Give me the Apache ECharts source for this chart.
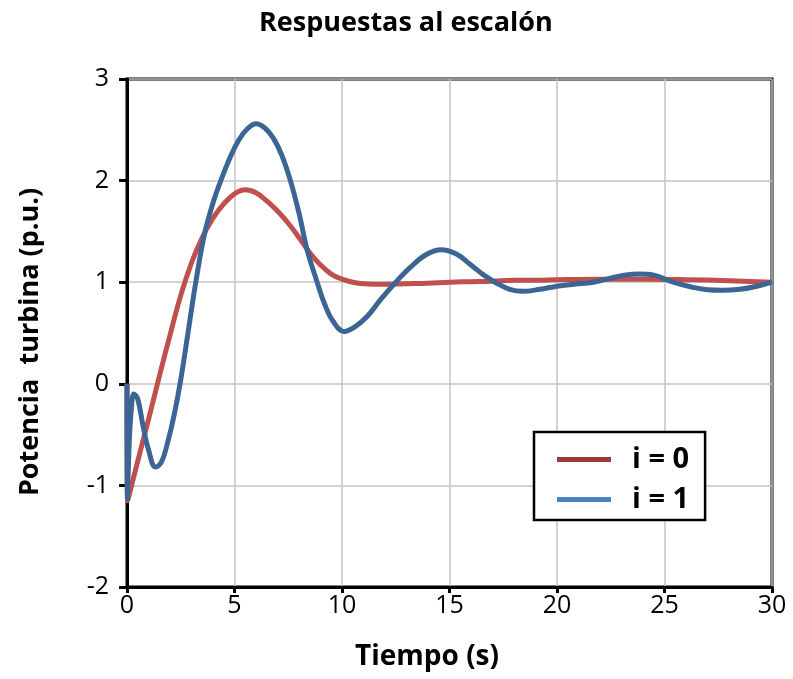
<!DOCTYPE html>
<html>
<head>
<meta charset="utf-8">
<script src="https://cdn.jsdelivr.net/npm/echarts@6/dist/echarts.min.js"></script>
<style>html,body{margin:0;padding:0;background:#fff;}#c{width:793px;height:679px;}</style>
</head>
<body>
<div id="c"></div>
<script>
// ---- data ----
const titleText = 'Respuestas al escalón';
const xName = 'Tiempo (s)';
const yName = 'Potencia  turbina (p.u.)';
const seriesNames = ['i = 0', 'i = 1'];

const tRed = [0, 0.03, 0.5, 1.0, 1.5, 2.0, 2.5, 3.0, 3.5, 4.0, 4.5, 5.0, 5.5, 6.0, 6.5, 7.0, 7.5, 8.0, 8.5, 9.0, 9.5, 10.0, 10.5, 11.0, 12, 13, 14, 15, 16, 17, 18, 19, 20, 22, 24, 26, 28, 30];
const vRed = [0, -1.15, -0.76, -0.35, 0.07, 0.48, 0.87, 1.19, 1.44, 1.63, 1.77, 1.87, 1.91, 1.88, 1.80, 1.70, 1.58, 1.44, 1.29, 1.17, 1.08, 1.03, 1.0, 0.985, 0.98, 0.985, 0.99, 1.0, 1.005, 1.01, 1.02, 1.02, 1.025, 1.03, 1.03, 1.025, 1.015, 1.0];

const tBlue = [0, 0.02, 0.1, 0.2, 0.32, 0.5, 0.75, 1.0, 1.33, 1.6, 1.9, 2.2, 2.5, 2.8, 3.2, 3.6, 4.0, 4.4, 4.8, 5.2, 5.6, 6.0, 6.4, 6.8, 7.2, 7.6, 8.0, 8.4, 8.8, 9.2, 9.6, 10.1, 10.6, 11.2, 11.8, 12.5, 13.2, 13.9, 14.6, 15.3, 16.0, 16.6, 17.2, 17.8, 18.4, 19.2, 20.0, 20.8, 21.7, 22.5, 23.2, 23.8, 24.5, 25.4, 26.3, 27.0, 27.7, 28.5, 29.3, 30];
const vBlue = [0, -1.13, -0.6, -0.25, -0.10, -0.15, -0.42, -0.65, -0.82, -0.77, -0.57, -0.3, 0.04, 0.45, 1.0, 1.47, 1.78, 2.02, 2.23, 2.40, 2.51, 2.56, 2.52, 2.42, 2.25, 2.0, 1.68, 1.30, 1.03, 0.78, 0.61, 0.515, 0.56, 0.67, 0.83, 1.0, 1.15, 1.27, 1.32, 1.28, 1.17, 1.07, 0.99, 0.93, 0.91, 0.93, 0.96, 0.98, 1.0, 1.04, 1.07, 1.08, 1.07, 1.0, 0.95, 0.925, 0.92, 0.93, 0.96, 1.0];

const xMin = 0, xMax = 30, xStep = 5;
const yMin = -2, yMax = 3, yStep = 1;

// ---- chart ----
const red = '#C0504D', blue = '#3B6595';
const font = '"Open Sans", sans-serif';
const chart = echarts.init(document.getElementById('c'), null, {renderer: 'canvas'});
const pairs = (t, v) => t.map((x, i) => [x, v[i]]);

chart.setOption({
  animation: false,
  backgroundColor: '#fff',
  title: {
    text: titleText, left: 254, top: 5,
    textStyle: {fontFamily: font, fontWeight: 'bold', fontSize: 27, color: '#000'}
  },
  grid: {left: 127, right: 21, top: 79, bottom: 92, show: true, borderColor: '#000', borderWidth: 3, containLabel: false},
  xAxis: {
    type: 'value', min: xMin, max: xMax, interval: xStep,
    axisLine: {show: true, onZero: false, lineStyle: {color: '#000', width: 3}},
    axisTick: {show: true, inside: false, length: 6, lineStyle: {color: '#000', width: 3}},
    axisLabel: {fontFamily: font, fontSize: 25, color: '#000', margin: 6},
    splitLine: {show: true, lineStyle: {color: '#c3c3c3', width: 1.5}}
  },
  yAxis: {
    type: 'value', min: yMin, max: yMax, interval: yStep,
    axisLine: {show: true, onZero: false, lineStyle: {color: '#000', width: 3}},
    axisTick: {show: true, inside: false, length: 8, lineStyle: {color: '#000', width: 3}},
    axisLabel: {fontFamily: font, fontSize: 25, color: '#000', margin: 18},
    splitLine: {show: true, lineStyle: {color: '#c3c3c3', width: 1.5}}
  },
  legend: {
    orient: 'vertical', left: 534, top: 432,
    padding: [13, 16, 6, 23], itemGap: 11,
    borderColor: '#000', borderWidth: 2.5, backgroundColor: '#fff',
    itemWidth: 54, itemHeight: 5, icon: 'rect',
    textStyle: {fontFamily: font, fontWeight: 'bold', fontSize: 29, color: '#000', padding: [0, 0, 0, 16]},
    data: [
      {name: seriesNames[0], itemStyle: {color: '#9A3B39'}},
      {name: seriesNames[1], itemStyle: {color: '#4F81BD'}}
    ]
  },
  graphic: [
    {type: 'text', left: 355, top: 643, style: {text: xName, font: 'bold 28px "Open Sans", sans-serif', fill: '#000'}},
    {type: 'text', x: 30, y: 342, rotation: Math.PI / 2, style: {text: yName, font: 'bold 27px "Open Sans", sans-serif', fill: '#000', textAlign: 'center', textVerticalAlign: 'middle'}}
  ],
  series: [
    {name: seriesNames[0], type: 'line', data: pairs(tRed, vRed), showSymbol: false, smooth: 0.4,
     lineStyle: {color: red, width: 5}, itemStyle: {color: red}, z: 2},
    {name: seriesNames[1], type: 'line', data: pairs(tBlue, vBlue), showSymbol: false, smooth: 0.4,
     lineStyle: {color: blue, width: 5}, itemStyle: {color: blue}, z: 3}
  ]
});
</script>
</body>
</html>
